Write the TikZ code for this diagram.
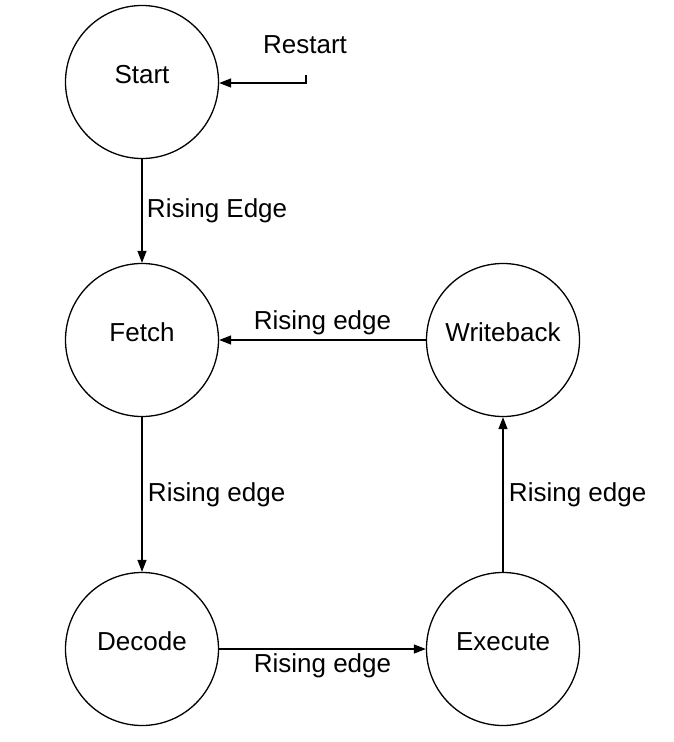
\documentclass[tikz,border=0pt]{standalone}
\usepackage{fontspec}
\setmainfont{Liberation Sans}
\usetikzlibrary{arrows.meta}

\begin{document}
\begin{tikzpicture}[x=1pt, y=-1pt, line width=1.3pt,
    every node/.style={font=\fontsize{26}{31}\selectfont},
    state/.style={circle, draw, minimum size=153pt, inner sep=0pt,
        text height=0.72em, text depth=0.34em},
    trans/.style={-{Triangle[length=12pt, width=9pt]}}]
    \useasboundingbox (0,0) rectangle (674,742);
    % States of the cycle
    \node[state] (start) at (142,82) {Start};
    \node[state] (fetch) at (142,340) {Fetch};
    \node[state] (decode) at (142,649) {Decode};
    \node[state] (execute) at (503,649) {Execute};
    \node[state] (writeback) at (503,340) {Writeback};

    % Restart entry
    \node (restart) at (305,45) {Restart};
    \coordinate (rs) at (306,75);

    % Transitions between states
    \draw[trans] (rs) |- ([yshift=-1pt]start.east);
    \draw[trans] (start) -- node[right, xshift=1pt] {Rising Edge} (fetch);
    \draw[trans] (fetch) -- node[right, xshift=2pt] {Rising edge} (decode);
    \draw[trans] (decode) -- node[below, yshift=-1pt] {Rising edge} (execute);
    \draw[trans] (execute) -- node[right, xshift=2pt] {Rising edge} (writeback);
    \draw[trans] (writeback) -- node[above, yshift=1pt] {Rising edge} (fetch);
\end{tikzpicture}
\end{document}
